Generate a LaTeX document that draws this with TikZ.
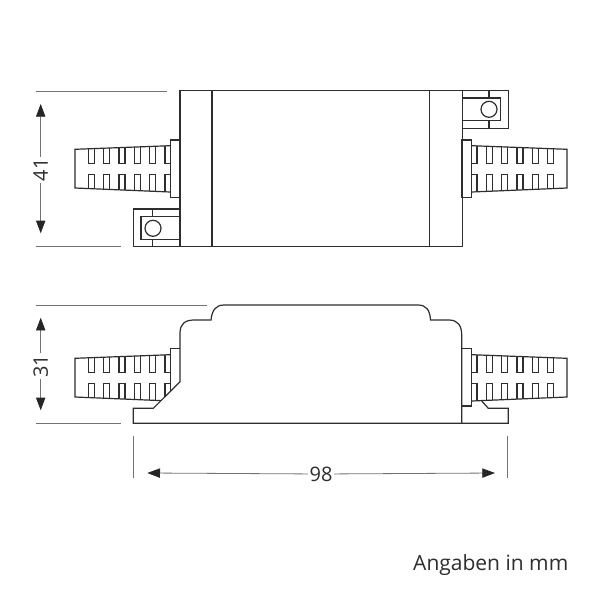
\documentclass[tikz,border=0pt]{standalone}
\usepackage{fontspec}
\setmainfont{Open Sans}
\usetikzlibrary{arrows.meta}
\definecolor{dimgray}{gray}{0.45}
\definecolor{linegray}{gray}{0.18}
\tikzset{x=1pt, y=-1pt,
  part/.style={draw=linegray, line width=1.2pt, line join=miter},
  dimline/.style={draw=dimgray, line width=0.8pt},
  dimarrow/.style={draw=dimgray, line width=0.8pt, -{Triangle[length=12.7pt,width=9.3pt,color=black!85]}},
  dimtext/.style={inner sep=1.5pt, font=\fontsize{20}{20}\selectfont, text=linegray}}
% one gland, seen from the left, dy shifts it down
\newcommand{\glandbody}{
  \begin{scope}
    \clip (170.3,145.7) -- (75,149.3) -- (75,188) -- (170.3,192) -- cycle;
    \foreach \sx/\ex in {88.3/94.3,103.7/109.7,119/125,134.3/140.3,149.7/155.7,165/170.3} {
      \draw[part] (\sx,140) -- (\sx,163.3) -- (\ex,163.3) -- (\ex,140);
      \draw[part] (\sx,200) -- (\sx,174.3) -- (\ex,174.3) -- (\ex,200);
    }
  \end{scope}
  \draw[part] (170.3,145.7) -- (75,149.3) -- (75,188) -- (170.3,192);
}
\begin{document}
\begin{tikzpicture}
  \useasboundingbox[fill=white] (0,0) rectangle (600,600);
  % top view
  \draw[part] (180,90.7) rectangle (462.3,246.7);
  \draw[part] (212,90.7) -- (212,246.7);
  \draw[part] (429.7,90.7) -- (429.7,246.7);
  \glandbody
  \draw[part] (170.3,140) rectangle (180,197.3);
  \begin{scope}[xshift=642pt, xscale=-1]
    \glandbody
    \draw[part] (170.3,140) rectangle (180,197.3);
  \end{scope}
  % lugs
  \draw[part] (180,209) -- (133.3,209) -- (133.3,246.7) -- (180,246.7);
  \draw[part] (180,216.3) -- (141,216.3) -- (141,239.3) -- (180,239.3);
  \draw[part] (152.7,209) -- (152.7,216.3);
  \draw[part] (152.7,239.3) -- (152.7,246.7);
  \node[part, circle, minimum size=16pt, inner sep=0pt] (lugL) at (153,228.3) {};
  \draw[part] (462.3,90.7) -- (508.3,90.7) -- (508.3,128.3) -- (462.3,128.3);
  \draw[part] (462.3,98) -- (500.7,98) -- (500.7,120.7) -- (462.3,120.7);
  \draw[part] (489,90.7) -- (489,98);
  \draw[part] (489,120.7) -- (489,128.3);
  \node[part, circle, minimum size=16pt, inner sep=0pt] (lugR) at (489,109.3) {};
  % side view
  \draw[part] (180,381.7) -- (180,333) .. controls (180,324) and (185,320) .. (194,320)
    -- (211,320) .. controls (212,310) and (216,305) .. (224,305)
    -- (418,305) .. controls (426,305) and (430,310) .. (430.5,320)
    -- (449,320) .. controls (458,320) and (461.7,326) .. (461.7,335)
    -- (461.7,423.3) -- (133.3,423.3) -- (133.3,408.3) -- (153.3,408.3) -- cycle;
  \draw[part] (461.7,423.3) -- (508.3,423.3) -- (508.3,408.3) -- (488.3,408.3) -- (481.7,401);
  \begin{scope}
    \clip (60,340) -- (170.3,340) -- (170.3,391.4) -- (153.3,408.3) -- (60,408.3) -- cycle;
    \begin{scope}[yshift=-209pt]
      \glandbody
    \end{scope}
  \end{scope}
  \draw[part] (170.3,391.4) -- (170.3,348.3) -- (180,348.3);
  \begin{scope}[yshift=-209pt, xshift=642pt, xscale=-1]
    \glandbody
  \end{scope}
  \draw[part] (461.7,348.3) rectangle (471.7,406);
  % dimensions
  \coordinate (t1) at (36,91);
  \coordinate (t2) at (166.7,91);
  \coordinate (t3) at (36,246.7);
  \coordinate (t4) at (120.7,246.7);
  \draw[dimline] (t1) -- (t2);
  \draw[dimline] (t3) -- (t4);
  \coordinate (h1) at (40.7,104);
  \coordinate (h2) at (40.7,233.3);
  \node[dimtext, rotate=90] (h) at (40.7,170) {41};
  \draw[dimarrow] (h) -- (h1);
  \draw[dimarrow] (h) -- (h2);
  \coordinate (s1) at (36,305);
  \coordinate (s2) at (206.7,305);
  \coordinate (s3) at (36,423.3);
  \coordinate (s4) at (120.7,423.3);
  \draw[dimline] (s1) -- (s2);
  \draw[dimline] (s3) -- (s4);
  \coordinate (d1) at (40.7,317.7);
  \coordinate (d2) at (40.7,410.3);
  \node[dimtext, rotate=90] (d) at (40.7,366) {31};
  \draw[dimarrow] (d) -- (d1);
  \draw[dimarrow] (d) -- (d2);
  \coordinate (b1) at (133.7,436);
  \coordinate (b2) at (133.7,477.7);
  \coordinate (b3) at (507.7,436);
  \coordinate (b4) at (507.7,477.7);
  \draw[dimline] (b1) -- (b2);
  \draw[dimline] (b3) -- (b4);
  \coordinate (w1) at (147.3,473);
  \coordinate (w2) at (495,473);
  \node[dimtext] (w) at (321,474) {98};
  \draw[dimarrow] (w) -- (w1);
  \draw[dimarrow] (w) -- (w2);
  \node[dimtext, font=\fontsize{21}{21}\selectfont, anchor=base east, inner sep=0pt] (unit) at (568.5,570) {Angaben in mm};
\end{tikzpicture}
\end{document}
